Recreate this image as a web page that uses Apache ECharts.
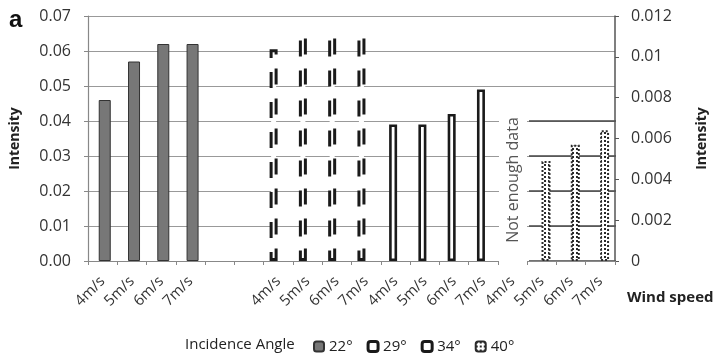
<!DOCTYPE html>
<html><head><meta charset="utf-8">
<script src="https://cdn.jsdelivr.net/npm/echarts@6/dist/echarts.min.js"></script>
<style>html,body{margin:0;padding:0;background:#fff}#c{width:717px;height:355px}</style>
</head><body><div id="c"></div>
<script>
const speeds = ['4m/s', '5m/s', '6m/s', '7m/s'];
const angles = ['22°', '29°', '34°', '40°'];
// category slots: 22° group, two empty slots, 29°, 34°, 40° groups
const groupSlots = [0, 6, 10, 14];
const v22 = [0.046, 0.057, 0.062, 0.062];
const v29 = [0.0605, 0.065, 0.065, 0.065];
const v34 = [0.039, 0.039, 0.042, 0.049];
const v40 = [null, 0.0049, 0.0057, 0.0064]; // 4m/s: not enough data
const leftMax = 0.07, leftStep = 0.01;
const rightMax = 0.012, rightStep = 0.002;

const nSlots = 18;
const categories = [];
for (let i = 0; i < nSlots; i++) categories.push('');
groupSlots.forEach(s => speeds.forEach((sp, k) => { categories[s + k] = sp; }));
function place(vals, gi) {
  const arr = new Array(nSlots).fill(null);
  vals.forEach((v, k) => { arr[groupSlots[gi] + k] = v; });
  return arr;
}
function dotPattern() {
  const c = document.createElement('canvas');
  c.width = 4; c.height = 4;
  const g = c.getContext('2d');
  g.fillStyle = '#fff'; g.fillRect(0, 0, 4, 4);
  g.fillStyle = '#2a2a2a'; g.fillRect(0, 0, 2, 2);
  return c;
}
const FONT = 'Open Sans';
const chart = echarts.init(document.getElementById('c'), null, {renderer: 'canvas'});
chart.setOption({
  animation: false,
  backgroundColor: '#fff',
  textStyle: {fontFamily: FONT},
  grid: [
    {left: 86, right: 101, top: 16, bottom: 94},
    {left: 529, width: 87, top: 121, height: 140}
  ],
  xAxis: [
    {type: 'category', gridIndex: 0, data: categories,
     axisLine: {lineStyle: {color: '#888', width: 1.2}},
     axisTick: {show: true, length: 4, lineStyle: {color: '#888'}},
     axisLabel: {interval: 0, rotate: 45, margin: 18, fontSize: 15, color: '#333', fontFamily: FONT}},
    {type: 'value', gridIndex: 1, min: 0, max: 1, show: false}
  ],
  yAxis: [
    {type: 'value', gridIndex: 0, min: 0, max: leftMax, interval: leftStep, position: 'left',
     name: 'Intensity', nameLocation: 'middle', nameGap: 66, nameRotate: 90,
     nameTextStyle: {fontSize: 14, fontWeight: 'bold', color: '#222', fontFamily: FONT},
     axisLine: {show: true, lineStyle: {color: '#888', width: 1.2}},
     axisTick: {show: true, length: 4, lineStyle: {color: '#888'}},
     axisLabel: {margin: 17, fontSize: 16, color: '#333', formatter: v => v.toFixed(2)},
     splitLine: {lineStyle: {color: '#999', width: 1.2}}},
    {type: 'value', gridIndex: 0, min: 0, max: rightMax, interval: rightStep, position: 'right',
     name: 'Intensity', nameLocation: 'middle', nameGap: 80, nameRotate: 90,
     nameTextStyle: {fontSize: 14, fontWeight: 'bold', color: '#222', fontFamily: FONT},
     axisLine: {show: true, lineStyle: {color: '#555', width: 1.5}},
     axisTick: {show: true, length: 4, lineStyle: {color: '#555'}},
     axisLabel: {margin: 16, fontSize: 16, color: '#333'},
     splitLine: {show: false}},
    {type: 'value', gridIndex: 1, min: 0, max: 0.04, interval: 0.01,
     axisLine: {show: false}, axisTick: {show: false}, axisLabel: {show: false},
     splitLine: {lineStyle: {color: '#444', width: 1.5}}}
  ],
  legend: {
    left: 308, top: 334, itemWidth: 10, itemHeight: 10, itemGap: 14,
    data: [
      {name: angles[0]},
      {name: angles[1], itemStyle: {borderWidth: 3, borderType: 'solid'}},
      {name: angles[2], itemStyle: {borderWidth: 3}},
      {name: angles[3]}
    ],
    textStyle: {fontSize: 15, color: '#222', fontFamily: FONT}
  },
  series: [
    {name: angles[1], type: 'bar', xAxisIndex: 0, yAxisIndex: 0, barWidth: 8, barGap: '-70%',
     data: place(v29, 1),
     itemStyle: {color: '#fff', borderColor: '#1a1a1a', borderWidth: 3, borderType: [16, 14]}},
    {name: angles[2], type: 'bar', xAxisIndex: 0, yAxisIndex: 0, barWidth: 8, barGap: '-70%',
     data: place(v34, 2),
     itemStyle: {color: '#fff', borderColor: '#1a1a1a', borderWidth: 2.6}},
    {name: angles[0], type: 'bar', xAxisIndex: 0, yAxisIndex: 0, barWidth: 12, barGap: '-70%',
     data: place(v22, 0),
     itemStyle: {color: '#777', borderColor: '#333', borderWidth: 1}},
    {name: angles[3], type: 'bar', xAxisIndex: 0, yAxisIndex: 1, barWidth: 9, barGap: '-70%',
     data: place(v40, 3),
     itemStyle: {color: {image: dotPattern(), repeat: 'repeat'}, borderColor: '#2a2a2a', borderWidth: 2, borderType: 'dotted'}}
  ],
  graphic: [
    {type: 'rect', z: 50, shape: {x: 499, y: 92, width: 28, height: 172}, style: {fill: '#fff'}},
    {type: 'text', z: 51, x: 513, y: 180, rotation: Math.PI / 2,
     style: {text: 'Not enough data', fontSize: 16, fontFamily: FONT, fill: '#555', align: 'center', verticalAlign: 'middle'}},
    {type: 'text', z: 51, x: 9, y: 20,
     style: {text: 'a', fontSize: 24, fontWeight: 'bold', fontFamily: 'Liberation Sans', fill: '#111', align: 'left', verticalAlign: 'middle'}},
    {type: 'text', z: 51, x: 627, y: 298,
     style: {text: 'Wind speed', fontSize: 15, fontWeight: 'bold', fontFamily: FONT, fill: '#222', align: 'left', verticalAlign: 'middle'}},
    {type: 'text', z: 51, x: 185, y: 345,
     style: {text: 'Incidence Angle', fontSize: 15, fontFamily: FONT, fill: '#222', align: 'left', verticalAlign: 'middle'}}
  ]
});
</script></body></html>
